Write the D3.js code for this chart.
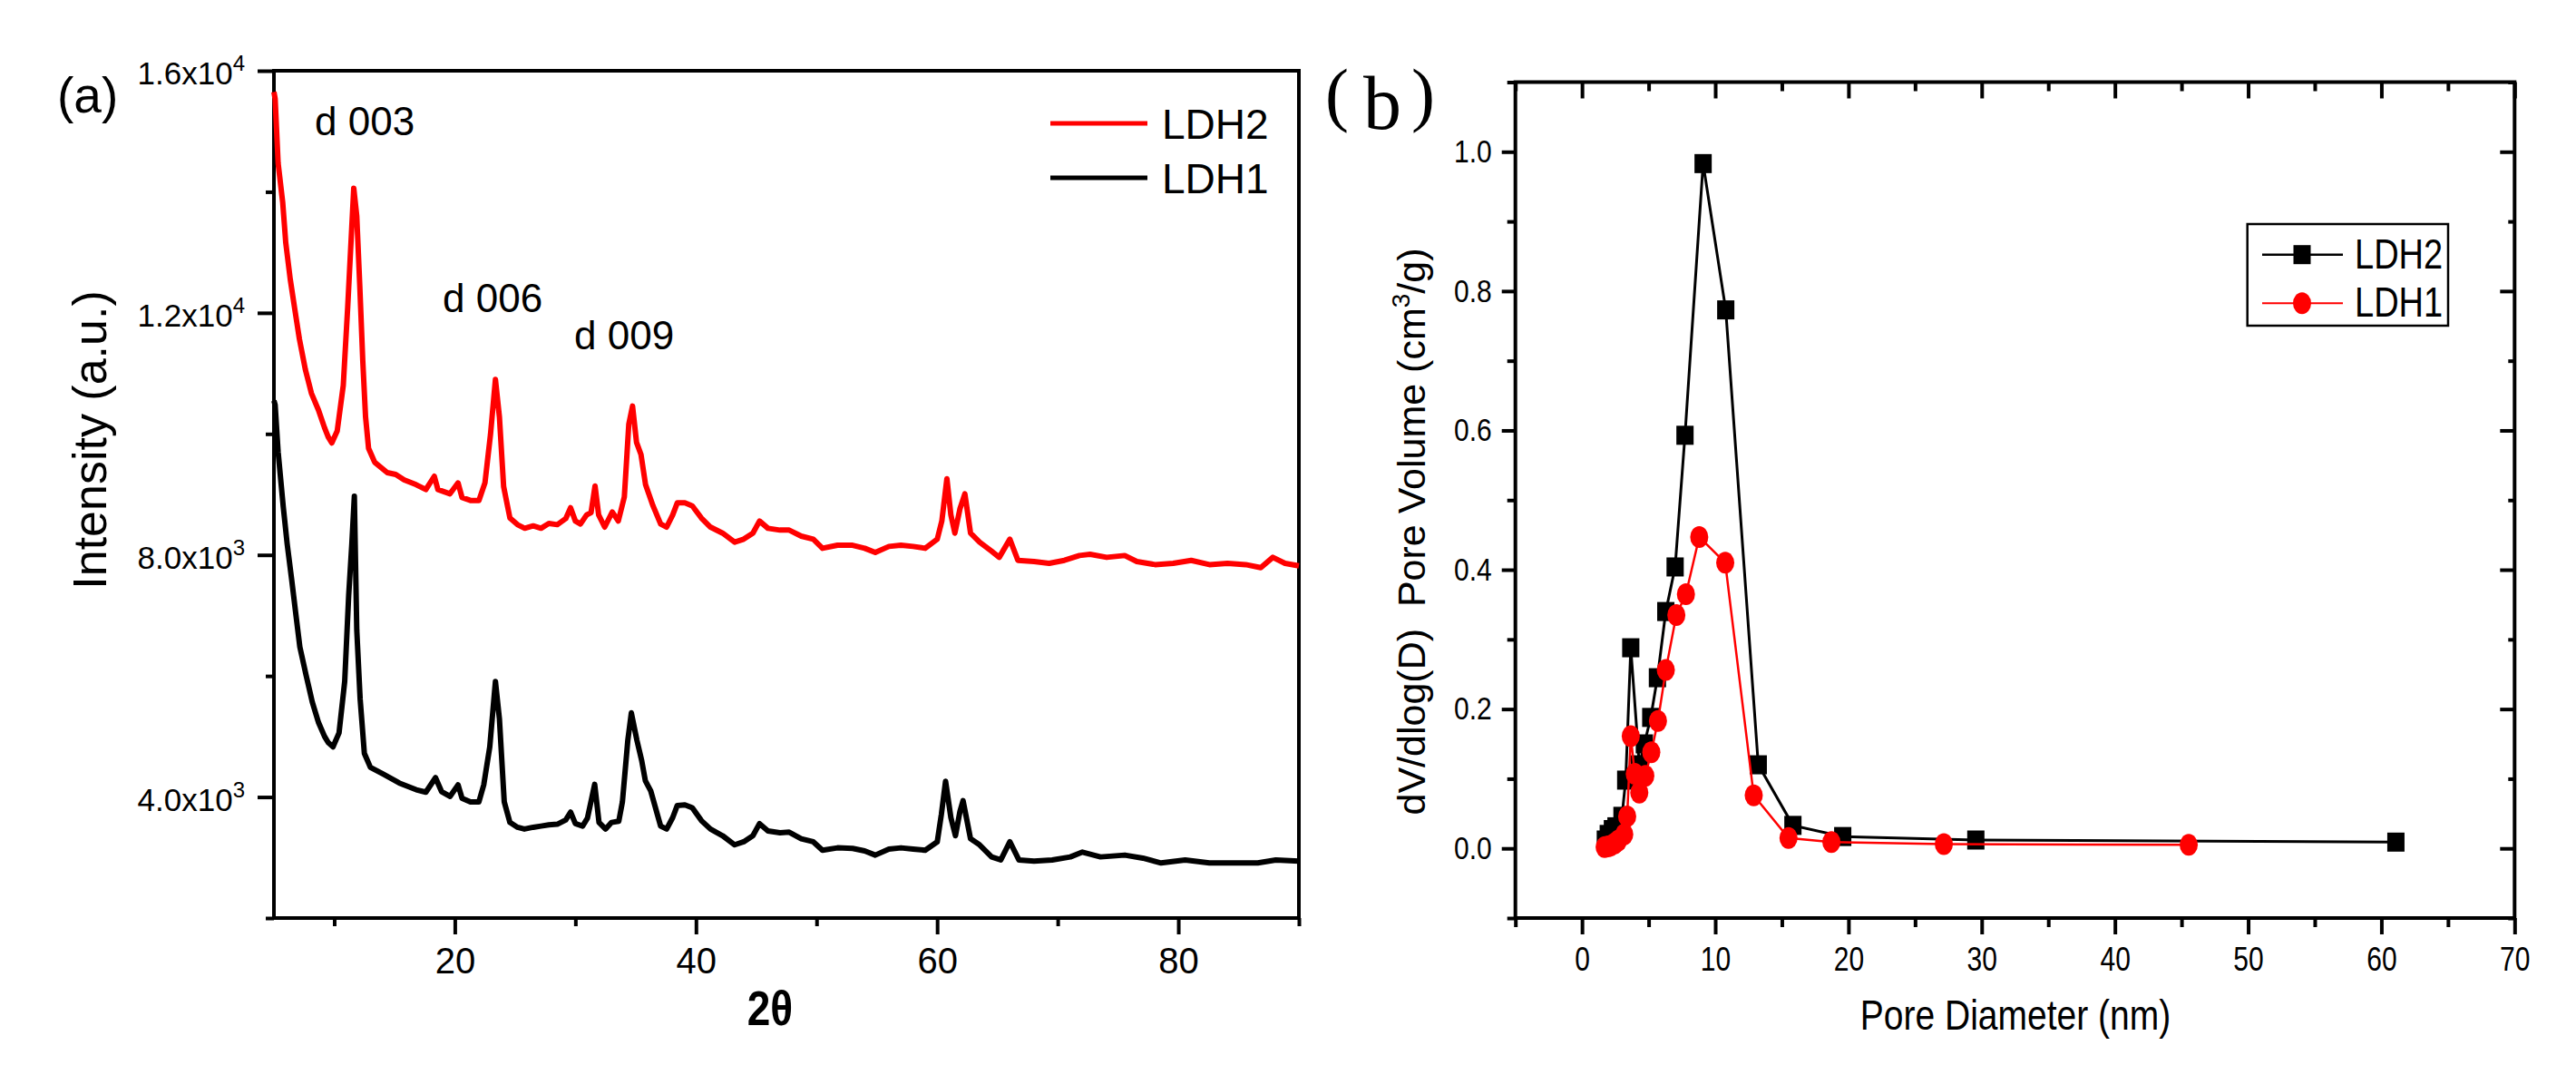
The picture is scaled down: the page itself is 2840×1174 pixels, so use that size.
<!DOCTYPE html>
<html>
<head>
<meta charset="utf-8">
<script src="https://cdn.jsdelivr.net/npm/d3@7"></script>
<style>
	body { margin: 0; background: #fff; }
	svg { display: block; background: #fff; font-family: 'Liberation Sans', Arial, sans-serif; }
	.axis path.domain { display: none; }
	.axis line { stroke: #000; stroke-width: 4; }
	.axis text { fill: #000; }
	.frame { fill: none; stroke: #000; stroke-width: 4; }
</style>
</head>
<body>
<svg id="chart" width="2840" height="1174"></svg>
<script>
// ---- (a) XRD patterns, [2theta, intensity]
const xrdLdh2 = [
	[5.0, 15650], [5.1, 15540], [5.35, 14470], [5.73, 13820], [5.98, 13160], [6.35, 12560],
	[6.73, 12060], [7.11, 11570], [7.61, 11060], [8.11, 10670], [8.7, 10390], [9.2, 10100],
	[9.5, 9950], [9.8, 9850], [10.25, 10050], [10.75, 10800], [11.12, 12100], [11.4, 13200],
	[11.62, 14060], [11.87, 13600], [12.12, 12450], [12.37, 11200], [12.6, 10280], [12.85, 9760],
	[13.36, 9530], [14.4, 9360], [15.1, 9330], [15.8, 9240], [16.8, 9160], [17.6, 9080],
	[18.3, 9300], [18.6, 9080], [19.6, 9010], [20.27, 9190], [20.6, 8950], [21.3, 8900],
	[22.0, 8900], [22.5, 9190], [22.96, 9990], [23.37, 10900], [23.7, 10280], [24.05, 9130],
	[24.57, 8610], [25.2, 8500], [25.8, 8440], [26.5, 8480], [27.15, 8440], [27.8, 8520],
	[28.5, 8500], [29.2, 8600], [29.6, 8780], [30.0, 8560], [30.42, 8510], [30.93, 8660],
	[31.3, 8700], [31.63, 9140], [31.93, 8660], [32.43, 8460], [33.06, 8710], [33.56, 8560],
	[34.06, 8960], [34.43, 10160], [34.74, 10460], [35.07, 9860], [35.44, 9660], [35.82, 9160],
	[36.44, 8810], [37.07, 8510], [37.57, 8460], [38.07, 8660], [38.45, 8860], [39.08, 8860],
	[39.7, 8810], [40.45, 8610], [41.2, 8460], [42.21, 8360], [43.21, 8210], [43.96, 8260],
	[44.72, 8360], [45.27, 8560], [45.97, 8440], [46.97, 8410], [47.73, 8410], [48.73, 8310],
	[49.73, 8260], [50.49, 8110], [51.74, 8160], [52.99, 8160], [53.99, 8110], [54.87, 8040],
	[56.0, 8140], [57.0, 8160], [58.01, 8140], [59.01, 8110], [60.01, 8260], [60.39, 8560],
	[60.81, 9260], [61.14, 8660], [61.47, 8360], [61.89, 8760], [62.3, 9010], [62.77, 8360],
	[63.52, 8210], [64.52, 8060], [65.15, 7960], [66.03, 8260], [66.7, 7910], [68.04, 7890],
	[69.29, 7860], [70.55, 7910], [71.8, 7990], [72.68, 8010], [74.06, 7960], [75.56, 7990],
	[76.56, 7890], [78.07, 7840], [79.57, 7860], [81.07, 7910], [82.58, 7840], [84.08, 7860],
	[85.59, 7840], [86.84, 7790], [87.84, 7960], [88.85, 7860], [90.0, 7820]
];

const xrdLdh1 = [
	[5.0, 10550], [5.1, 10480], [5.35, 9700], [5.77, 8800], [6.1, 8180], [6.46, 7610],
	[6.8, 7050], [7.15, 6480], [7.66, 6020], [8.18, 5570], [8.7, 5230], [9.2, 5000],
	[9.5, 4900], [9.9, 4830], [10.4, 5060], [10.87, 5910], [11.2, 7330], [11.46, 8180],
	[11.67, 8970], [11.87, 6760], [12.15, 5620], [12.5, 4720], [13.0, 4490], [14.04, 4380],
	[15.4, 4230], [16.8, 4120], [17.6, 4080], [18.4, 4320], [18.9, 4090], [19.6, 4010],
	[20.27, 4200], [20.6, 3980], [21.3, 3920], [22.0, 3920], [22.4, 4200], [22.9, 4830],
	[23.37, 5910], [23.7, 5290], [24.1, 3920], [24.57, 3580], [25.2, 3500], [25.77, 3470],
	[26.5, 3500], [27.15, 3520], [27.8, 3540], [28.5, 3550], [29.2, 3620], [29.6, 3750],
	[30.0, 3560], [30.6, 3520], [31.0, 3650], [31.6, 4210], [31.96, 3580], [32.5, 3470],
	[33.0, 3580], [33.6, 3600], [33.9, 3920], [34.35, 4940], [34.64, 5390], [35.1, 4940],
	[35.5, 4600], [35.8, 4270], [36.25, 4100], [37.07, 3520], [37.57, 3470], [38.07, 3660],
	[38.45, 3860], [39.08, 3870], [39.7, 3820], [40.45, 3610], [41.2, 3470], [42.21, 3360],
	[43.21, 3210], [43.96, 3260], [44.72, 3360], [45.27, 3560], [45.97, 3440], [46.97, 3410],
	[47.73, 3420], [48.73, 3310], [49.73, 3260], [50.49, 3120], [51.74, 3160], [52.99, 3150],
	[53.99, 3110], [54.87, 3040], [56.0, 3140], [57.0, 3160], [58.01, 3140], [59.01, 3120],
	[60.01, 3260], [60.35, 3710], [60.7, 4260], [61.14, 3660], [61.52, 3360], [61.89, 3760],
	[62.15, 3940], [62.77, 3310], [63.52, 3210], [64.52, 3010], [65.28, 2960], [66.03, 3260],
	[66.78, 2960], [68.04, 2940], [69.54, 2960], [71.05, 3010], [72.05, 3090], [73.55, 3010],
	[75.56, 3040], [77.06, 2990], [78.57, 2910], [80.57, 2960], [82.58, 2910], [84.58, 2910],
	[86.59, 2910], [88.09, 2960], [90.0, 2940]
];

const xrdXTicks = [20, 40, 60, 80];
const xrdXMinor = [10, 30, 50, 70, 90];
const xrdYTicks = [4000, 8000, 12000, 16000];
const xrdYMinor = [2000, 6000, 10000, 14000];
const peakNames = ['d 003', 'd 006', 'd 009'];

// ---- (b) pore size distribution, [diameter nm, dV/dlog(D)]
const poreLdh2 = [
	[1.75, 0.012], [1.97, 0.020], [2.28, 0.027], [2.55, 0.031], [3.0, 0.046], [3.28, 0.098],
	[3.66, 0.288], [4.30, 0.120], [4.68, 0.150], [5.16, 0.188], [5.66, 0.245], [6.29, 0.340],
	[6.99, 0.404], [7.73, 0.593], [9.09, 0.983], [10.79, 0.773], [13.23, 0.120], [15.83, 0.033],
	[19.57, 0.017], [29.56, 0.012], [61.09, 0.009]
];

const poreLdh1 = [
	[1.70, 0.002], [1.95, 0.003], [2.15, 0.004], [2.45, 0.007], [2.71, 0.011], [3.17, 0.020],
	[3.39, 0.046], [3.66, 0.161], [3.96, 0.107], [4.30, 0.080], [4.75, 0.104], [5.2, 0.138],
	[5.7, 0.183], [6.29, 0.256], [7.08, 0.335], [7.8, 0.365], [8.8, 0.447], [10.75, 0.410],
	[12.89, 0.076], [15.5, 0.015], [18.72, 0.009], [27.16, 0.006], [45.54, 0.005]
];

const poreXTicks = [0, 10, 20, 30, 40, 50, 60, 70];
const poreXMinor = [-5, 5, 15, 25, 35, 45, 55, 65];
const poreYTicks = [0, 0.2, 0.4, 0.6, 0.8, 1.0];
const poreYMinor = [-0.1, 0.1, 0.3, 0.5, 0.7, 0.9, 1.1];

const SANS = '\'Liberation Sans\', Arial, sans-serif';
const SERIF = '\'Liberation Serif\', \'Times New Roman\', serif';

const svg = d3.select('#chart');

drawXrd();
drawPores();

function drawXrd() {
	const x = d3.scaleLinear().domain([5, 90]).range([302, 1432]);
	const y = d3.scaleLinear().domain([2000, 16000]).range([1012, 78]);

	svg.append('g')
		.attr('class', 'axis')
		.attr('transform', `translate(0 ${y.range()[0]})`)
		.call(d3.axisBottom(x).tickValues(xrdXTicks).tickSize(18).tickPadding(15).tickFormat(d3.format('d')))
		.attr('font-size', 40)
		.attr('font-family', SANS);

	svg.append('g')
		.attr('class', 'axis')
		.attr('transform', `translate(0 ${y.range()[0]})`)
		.call(d3.axisBottom(x).tickValues(xrdXMinor).tickSize(9).tickFormat(''));

	const left = svg.append('g')
		.attr('class', 'axis')
		.attr('transform', `translate(${x.range()[0]} 0)`)
		.call(d3.axisLeft(y).tickValues(xrdYTicks).tickSize(18).tickPadding(14))
		.attr('font-size', 35)
		.attr('font-family', SANS);

	// 1.6x10^4 style labels
	left.selectAll('.tick text')
		.attr('dy', '0.42em')
		.each(function (v) {
			const exp = Math.floor(Math.log10(v));
			const mant = (v / Math.pow(10, exp)).toFixed(1);
			const t = d3.select(this).text(null);
			t.append('tspan').text(`${mant}x10`);
			t.append('tspan').attr('dy', -15).attr('font-size', 24).text(exp);
		});

	svg.append('g')
		.attr('class', 'axis')
		.attr('transform', `translate(${x.range()[0]} 0)`)
		.call(d3.axisLeft(y).tickValues(xrdYMinor).tickSize(9).tickFormat(''));

	svg.append('rect')
		.attr('class', 'frame')
		.attr('x', x.range()[0])
		.attr('y', y.range()[1])
		.attr('width', x.range()[1] - x.range()[0])
		.attr('height', y.range()[0] - y.range()[1]);

	const line = d3.line()
		.x((d) => x(d[0]))
		.y((d) => y(d[1]));

	const series = [
		{ name: 'LDH2', color: '#ff0000', points: xrdLdh2 },
		{ name: 'LDH1', color: '#000000', points: xrdLdh1 }
	];

	// noisy scans look like a thick band, so a wide stroke
	svg.selectAll('.xrd')
		.data(series)
		.enter()
		.append('path')
		.attr('class', 'xrd')
		.attr('d', (d) => line(d.points))
		.attr('fill', 'none')
		.attr('stroke', (d) => d.color)
		.attr('stroke-width', 6)
		.attr('stroke-linejoin', 'round');

	// legend, top right
	const legend = svg.selectAll('.xrd-legend')
		.data(series)
		.enter()
		.append('g')
		.attr('class', 'xrd-legend')
		.attr('transform', (d, i) => `translate(1158 ${136 + i * 60})`);

	legend.append('line')
		.attr('x2', 107)
		.attr('stroke', (d) => d.color)
		.attr('stroke-width', 5);

	legend.append('text')
		.text((d) => d.name)
		.attr('x', 123)
		.attr('y', 17)
		.attr('font-size', 46)
		.attr('font-family', SANS);

	// reflection labels
	const peakSpots = [[347, 149], [488, 344], [633, 385]];
	svg.selectAll('.peak')
		.data(peakNames)
		.enter()
		.append('text')
		.attr('class', 'peak')
		.text((d) => d)
		.attr('x', (d, i) => peakSpots[i][0])
		.attr('y', (d, i) => peakSpots[i][1])
		.attr('font-size', 44)
		.attr('font-family', SANS);

	svg.append('text')
		.text('(a)')
		.attr('x', 63)
		.attr('y', 124)
		.attr('font-size', 55)
		.attr('font-family', SANS);

	svg.append('text')
		.text('Intensity (a.u.)')
		.attr('transform', 'translate(117 485) rotate(-90)')
		.attr('text-anchor', 'middle')
		.attr('font-size', 52)
		.attr('font-family', SANS);

	svg.append('text')
		.text('2θ')
		.attr('transform', 'translate(849 1130) scale(1 1.15)')
		.attr('text-anchor', 'middle')
		.attr('font-size', 46)
		.attr('font-weight', 'bold')
		.attr('font-family', SANS);
}

function drawPores() {
	const x = d3.scaleLinear().domain([-5, 70]).range([1670.7, 2772.3]);
	const y = d3.scaleLinear().domain([-0.1, 1.1]).range([1012, 90.5]);
	const stretch = 'scale(1 1.2)';

	// bottom (outward) and top (inward) ticks
	const bottom = svg.append('g')
		.attr('class', 'axis')
		.attr('transform', `translate(0 ${y.range()[0]})`)
		.call(d3.axisBottom(x).tickValues(poreXTicks).tickSize(18).tickPadding(9).tickFormat(d3.format('d')))
		.attr('font-size', 30)
		.attr('font-family', SANS);
	bottom.selectAll('.tick text').attr('transform', stretch);

	svg.append('g')
		.attr('class', 'axis')
		.attr('transform', `translate(0 ${y.range()[0]})`)
		.call(d3.axisBottom(x).tickValues(poreXMinor).tickSize(10).tickFormat(''));

	svg.append('g')
		.attr('class', 'axis')
		.attr('transform', `translate(0 ${y.range()[1]})`)
		.call(d3.axisTop(x).tickValues(poreXTicks).tickSize(-18).tickFormat(''));

	svg.append('g')
		.attr('class', 'axis')
		.attr('transform', `translate(0 ${y.range()[1]})`)
		.call(d3.axisTop(x).tickValues(poreXMinor).tickSize(-10).tickFormat(''));

	// left (outward) and right (inward) ticks
	const left = svg.append('g')
		.attr('class', 'axis')
		.attr('transform', `translate(${x.range()[0]} 0)`)
		.call(d3.axisLeft(y).tickValues(poreYTicks).tickSize(15).tickPadding(11).tickFormat(d3.format('.1f')))
		.attr('font-size', 30)
		.attr('font-family', SANS);
	left.selectAll('.tick text').attr('transform', 'scale(1 1.17)');

	svg.append('g')
		.attr('class', 'axis')
		.attr('transform', `translate(${x.range()[0]} 0)`)
		.call(d3.axisLeft(y).tickValues(poreYMinor).tickSize(9).tickFormat(''));

	svg.append('g')
		.attr('class', 'axis')
		.attr('transform', `translate(${x.range()[1]} 0)`)
		.call(d3.axisRight(y).tickValues(poreYTicks).tickSize(-16).tickFormat(''));

	svg.append('g')
		.attr('class', 'axis')
		.attr('transform', `translate(${x.range()[1]} 0)`)
		.call(d3.axisRight(y).tickValues(poreYMinor).tickSize(-7).tickFormat(''));

	svg.append('rect')
		.attr('class', 'frame')
		.attr('x', x.range()[0])
		.attr('y', y.range()[1])
		.attr('width', x.range()[1] - x.range()[0])
		.attr('height', y.range()[0] - y.range()[1]);

	const line = d3.line()
		.x((d) => x(d[0]))
		.y((d) => y(d[1]));

	const series = [
		{ name: 'LDH2', color: '#000000', width: 3, shape: 'square', points: poreLdh2 },
		{ name: 'LDH1', color: '#ff0000', width: 2.5, shape: 'circle', points: poreLdh1 }
	];

	const groups = svg.selectAll('.pore')
		.data(series)
		.enter()
		.append('g')
		.attr('class', 'pore');

	groups.append('path')
		.attr('d', (d) => line(d.points))
		.attr('fill', 'none')
		.attr('stroke', (d) => d.color)
		.attr('stroke-width', (d) => d.width);

	groups.each(function (s) {
		const g = d3.select(this);
		s.points.forEach((p) => marker(g, s, x(p[0]), y(p[1])));
	});

	// legend box
	svg.append('rect')
		.attr('x', 2477.7)
		.attr('y', 247)
		.attr('width', 221.3)
		.attr('height', 112)
		.attr('fill', '#fff')
		.attr('stroke', '#000')
		.attr('stroke-width', 2.5);

	series.forEach((s, i) => {
		const cy = 280.7 + i * 53.6;
		const g = svg.append('g');
		g.append('line')
			.attr('x1', 2494)
			.attr('x2', 2583)
			.attr('y1', cy)
			.attr('y2', cy)
			.attr('stroke', s.color)
			.attr('stroke-width', s.width - 0.5);
		marker(g, s, 2538, cy);
		g.append('text')
			.text(s.name)
			.attr('transform', `translate(2596 ${cy + 15}) ${stretch}`)
			.attr('font-size', 38)
			.attr('font-family', SANS);
	});

	// panel tag, serif with wide parentheses
	svg.append('text').text('(').attr('x', 1461).attr('y', 130).attr('font-size', 78).attr('font-family', SERIF);
	svg.append('text').text('b').attr('x', 1503).attr('y', 142).attr('font-size', 84).attr('font-family', SERIF);
	svg.append('text').text(')').attr('x', 1556).attr('y', 130).attr('font-size', 78).attr('font-family', SERIF);

	const yLabel = svg.append('text')
		.attr('transform', 'translate(1571 586) rotate(-90)')
		.attr('text-anchor', 'middle')
		.attr('font-size', 43)
		.attr('font-family', SANS);
	yLabel.append('tspan').text('dV/dlog(D)\u00a0\u00a0Pore Volume (cm');
	yLabel.append('tspan').attr('dy', -17).attr('font-size', 28).text('3');
	yLabel.append('tspan').attr('dy', 17).text('/g)');

	svg.append('text')
		.text('Pore Diameter (nm)')
		.attr('transform', `translate(2222 1135) ${stretch}`)
		.attr('text-anchor', 'middle')
		.attr('font-size', 39)
		.attr('font-family', SANS);
}

function marker(g, s, cx, cy) {
	if (s.shape === 'square') {
		g.append('rect')
			.attr('x', cx - 9.5)
			.attr('y', cy - 10.5)
			.attr('width', 19)
			.attr('height', 21)
			.attr('fill', s.color);
	} else {
		g.append('ellipse')
			.attr('cx', cx)
			.attr('cy', cy)
			.attr('rx', 10)
			.attr('ry', 12)
			.attr('fill', s.color);
	}
}
</script>
</body>
</html>
